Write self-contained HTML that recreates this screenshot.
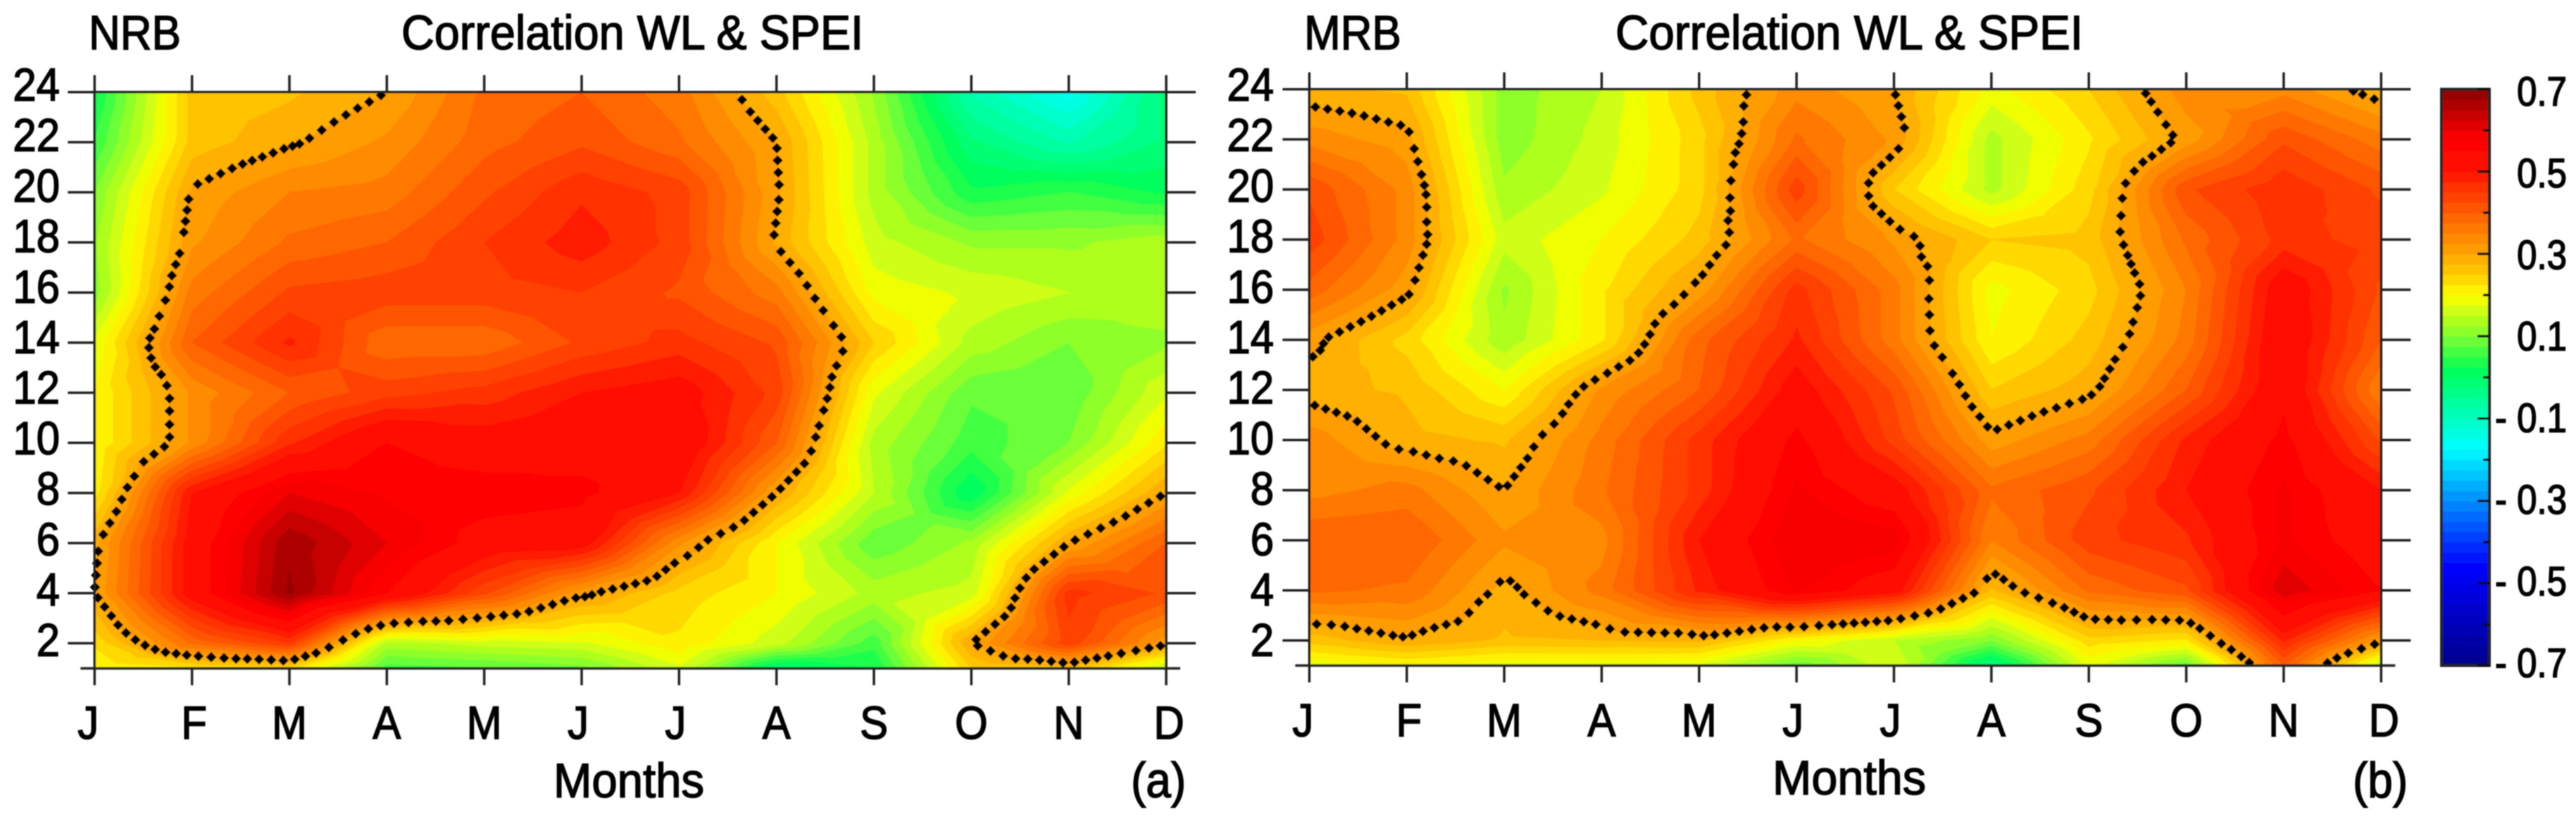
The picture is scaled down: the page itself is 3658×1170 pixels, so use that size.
<!DOCTYPE html>
<html lang="en">
<head>
<meta charset="utf-8">
<title>Correlation WL &amp; SPEI</title>
<style>
html,body{margin:0;padding:0;background:#fff;width:3658px;height:1170px;overflow:hidden}
svg{display:block}
text{font-family:"Liberation Sans",sans-serif;fill:#000;stroke:#000;stroke-width:1.4px}
</style>
</head>
<body>
<svg id="figure" xmlns="http://www.w3.org/2000/svg" width="3658" height="1170" viewBox="0 0 3658 1170">
  <defs>
    <filter id="soft" x="0" y="0" width="1" height="1"><feGaussianBlur stdDeviation="0.7"/></filter>
    <clipPath id="clip-a"><rect x="124" y="130.7" width="1542" height="818.3"/></clipPath>
    <clipPath id="clip-b"><rect x="1849" y="126.7" width="1542" height="818.3"/></clipPath>
  </defs>
  <rect width="3658" height="1170" fill="#fff"/>
  <g id="root" filter="url(#soft)">
    <g id="panel-a"></g>
    <g id="panel-b"></g>
    <g id="colorbar"></g>
    <text transform="translate(126,70) scale(1,1.1)" font-size="62">NRB</text>
    <text transform="translate(570,70) scale(1,1.1)" font-size="62" textLength="656" lengthAdjust="spacingAndGlyphs">Correlation WL &amp; SPEI</text>
    <text transform="translate(1852,70) scale(1,1.1)" font-size="62">MRB</text>
    <text transform="translate(2294,70) scale(1,1.1)" font-size="62" textLength="664" lengthAdjust="spacingAndGlyphs">Correlation WL &amp; SPEI</text>
    <text transform="translate(786,1132) scale(1,1.1)" font-size="62" textLength="214" lengthAdjust="spacingAndGlyphs">Months</text>
    <text transform="translate(2517,1128) scale(1,1.1)" font-size="62" textLength="218" lengthAdjust="spacingAndGlyphs">Months</text>
    <text transform="translate(1606,1132) scale(1,1.1)" font-size="64">(a)</text>
    <text transform="translate(3341,1132) scale(1,1.1)" font-size="64">(b)</text>
  </g>
</svg>
<script>
const monthLabels = ['J','F','M','A','M','J','J','A','S','O','N','D'];
const lagRows = [24,22,20,18,16,14,12,10,8,6,4,2,1];
const lagTickLabels = [24,22,20,18,16,14,12,10,8,6,4,2];
const colorbarLabels = [0.7,0.5,0.3,0.1,-0.1,-0.3,-0.5,-0.7];
const colorbarTicks = [0.7,0.6,0.5,0.4,0.3,0.2,0.1,0,-0.1,-0.2,-0.3,-0.4,-0.5,-0.6,-0.7];
const significanceLevel = 0.3;
const nrbCorrelation = [
  [ 0.02,0.26,0.27,0.30,0.38,0.40,0.36,0.26,0.12,-0.08,-0.16,-0.02],
  [ 0.05,0.26,0.295,0.33,0.39,0.42,0.38,0.30,0.14,-0.02,-0.08,-0.02],
  [ 0.10,0.305,0.35,0.36,0.42,0.47,0.44,0.305,0.14,0.03,0.05,0.02],
  [ 0.12,0.32,0.38,0.40,0.45,0.49,0.44,0.295,0.16,0.12,0.12,0.14],
  [ 0.11,0.36,0.43,0.44,0.44,0.45,0.42,0.36,0.19,0.17,0.15,0.14],
  [ 0.18,0.40,0.48,0.38,0.38,0.43,0.46,0.42,0.25,0.14,0.10,0.12],
  [ 0.20,0.33,0.40,0.44,0.46,0.50,0.52,0.44,0.18,0.08,0.08,0.17],
  [ 0.20,0.33,0.47,0.55,0.52,0.53,0.54,0.40,0.14,0.06,0.10,0.22],
  [ 0.214,0.50,0.60,0.57,0.57,0.56,0.50,0.30,0.15,0.00,0.18,0.30],
  [ 0.29,0.52,0.67,0.60,0.53,0.52,0.33,0.20,0.08,0.13,0.30,0.40],
  [ 0.30,0.52,0.68,0.55,0.43,0.31,0.24,0.20,0.14,0.16,0.46,0.42],
  [ 0.23,0.38,0.45,0.14,0.16,0.17,0.22,0.16,0.06,0.30,0.44,0.31],
  [ 0.20,0.22,0.236,0.06,0.07,0.09,0.17,-0.02,0.02,0.25,0.265,0.14]
];
const mrbCorrelation = [
  [ 0.28,0.27,0.11,0.15,0.26,0.34,0.30,0.19,0.25,0.34,0.34,0.28],
  [ 0.34,0.31,0.11,0.16,0.24,0.38,0.32,0.14,0.22,0.31,0.42,0.36],
  [ 0.42,0.34,0.13,0.17,0.24,0.44,0.25,0.14,0.24,0.42,0.47,0.42],
  [ 0.44,0.34,0.16,0.20,0.26,0.38,0.32,0.25,0.26,0.38,0.46,0.44],
  [ 0.39,0.31,0.12,0.22,0.31,0.46,0.36,0.19,0.24,0.35,0.53,0.42],
  [ 0.31,0.24,0.13,0.22,0.39,0.48,0.36,0.20,0.26,0.36,0.54,0.40],
  [ 0.285,0.27,0.20,0.33,0.40,0.52,0.42,0.25,0.29,0.40,0.54,0.35],
  [ 0.34,0.285,0.27,0.36,0.46,0.56,0.44,0.31,0.36,0.48,0.56,0.42],
  [ 0.34,0.36,0.30,0.37,0.46,0.58,0.52,0.38,0.42,0.50,0.58,0.50],
  [ 0.40,0.40,0.33,0.34,0.50,0.60,0.59,0.35,0.44,0.47,0.58,0.52],
  [ 0.38,0.37,0.29,0.36,0.48,0.58,0.52,0.27,0.38,0.42,0.62,0.55],
  [ 0.26,0.295,0.27,0.275,0.28,0.20,0.15,0.10,0.24,0.22,0.48,0.31],
  [ 0.18,0.20,0.18,0.18,0.17,0.08,0.17,-0.03,0.18,0.08,0.40,0.15]
];

const SVGNS = 'http://www.w3.org/2000/svg';
const colorStops = [
  [-0.7,0,0,139],[-0.46,0,0,255],[-0.17,0,255,255],[0.02,0,255,85],[0.1,127,255,50],
  [0.2,255,255,0],[0.25,255,204,0],[0.33,255,144,0],[0.42,255,80,0],[0.5,255,20,0],
  [0.58,255,0,0],[0.7,139,0,0]
];
const bandStep = 0.025;

function make(tag, attrs, parent) {
  const el = document.createElementNS(SVGNS, tag);
  for (const k in attrs) el.setAttribute(k, attrs[k]);
  parent.appendChild(el);
  return el;
}
function colorFor(v) {
  if (v <= colorStops[0][0]) return 'rgb(0,0,139)';
  for (let i = 1; i < colorStops.length; i++) {
    const a = colorStops[i-1], b = colorStops[i];
    if (v <= b[0]) {
      const t = (v-a[0])/(b[0]-a[0]);
      return 'rgb(' + Math.round(a[1]+t*(b[1]-a[1])) + ',' + Math.round(a[2]+t*(b[2]-a[2])) + ',' + Math.round(a[3]+t*(b[3]-a[3])) + ')';
    }
  }
  return 'rgb(139,0,0)';
}
function clipPoly(poly, level, keepAbove) {
  const out = [];
  for (let i = 0; i < poly.length; i++) {
    const p = poly[i], q = poly[(i+1)%poly.length];
    const pIn = keepAbove ? p.v >= level : p.v <= level;
    const qIn = keepAbove ? q.v >= level : q.v <= level;
    if (pIn) out.push(p);
    if (pIn !== qIn) {
      const t = (level-p.v)/(q.v-p.v);
      out.push({x:p.x+t*(q.x-p.x), y:p.y+t*(q.y-p.y), v:level});
    }
  }
  return out;
}
function trianglesFor(values, xs, ys) {
  const tris = [];
  for (let r = 0; r < values.length-1; r++) {
    for (let c = 0; c < values[r].length-1; c++) {
      const a = {x:xs(c),y:ys(lagRows[r]),v:values[r][c]};
      const b = {x:xs(c+1),y:ys(lagRows[r]),v:values[r][c+1]};
      const d = {x:xs(c+1),y:ys(lagRows[r+1]),v:values[r+1][c+1]};
      const e = {x:xs(c),y:ys(lagRows[r+1]),v:values[r+1][c]};
      const m = {x:(a.x+b.x)/2,y:(a.y+e.y)/2,v:(a.v+b.v+d.v+e.v)/4};
      tris.push([a,b,m],[b,d,m],[d,e,m],[e,a,m]);
    }
  }
  return tris;
}
function drawLabel(parent, str, x, y, size, anchor, sy) {
  const t = make('text', {transform:'translate('+x+','+y+') scale(1,'+sy+')', 'font-size':size, 'text-anchor':anchor}, parent);
  t.textContent = str;
  return t;
}
function monthNudge(letter, idx) {
  if (letter === 'J') return idx === 0 ? -9 : -5;
  if (letter === 'F') return 3;
  if (letter === 'D') return 4;
  return 0;
}
function drawPanel(gId, values, box, clipId, yLabelRight, monthBaseline, labelTop) {
  const g = document.getElementById(gId);
  const xs = i => box.x0 + i*(box.x1-box.x0)/11;
  const ys = lag => box.y0 + (24-lag)*(box.y1-box.y0)/23;
  const tris = trianglesFor(values, xs, ys);
  const field = make('g', {'clip-path':'url(#'+clipId+')'}, g);
  
  
  for (let lo = -0.7; lo < 0.7-1e-6; lo += bandStep) {
    const hi = lo + bandStep;
    let d = '';
    for (const tri of tris) {
      let poly = lo < -0.69 ? tri : clipPoly(tri, lo, true);
      if (poly.length && hi < 0.69) poly = clipPoly(poly, hi, false);
      if (poly.length < 3) continue;
      d += 'M' + poly.map(p => p.x.toFixed(1)+' '+p.y.toFixed(1)).join('L') + 'Z';
    }
    if (!d) continue;
    const col = colorFor(lo + bandStep/2);
    const band = make('path', {d:d, fill:col, stroke:col, 'stroke-width':0.8}, field);
    
    
  }
  let dots = '';
  const r = 7.5;
  for (const tri of tris) {
    const pts = [];
    for (let i = 0; i < 3; i++) {
      const p = tri[i], q = tri[(i+1)%3];
      if ((p.v >= significanceLevel) !== (q.v >= significanceLevel)) {
        const t = (significanceLevel-p.v)/(q.v-p.v);
        pts.push({x:p.x+t*(q.x-p.x), y:p.y+t*(q.y-p.y)});
      }
    }
    if (pts.length !== 2) continue;
    const L = Math.hypot(pts[1].x-pts[0].x, pts[1].y-pts[0].y);
    const n = Math.round(L/18);
    for (let k = 0; k < n; k++) {
      const f = (k+0.5)/n;
      const x = pts[0].x+f*(pts[1].x-pts[0].x), y = pts[0].y+f*(pts[1].y-pts[0].y);
      dots += 'M'+x.toFixed(1)+' '+(y-r).toFixed(1)+'L'+(x+r).toFixed(1)+' '+y.toFixed(1)+'L'+x.toFixed(1)+' '+(y+r).toFixed(1)+'L'+(x-r).toFixed(1)+' '+y.toFixed(1)+'Z';
    }
  }
  const contour = make('path', {d:dots, fill:'#000', 'clip-path':'url(#'+clipId+')'}, g);
  
  

  const frameAttrs = {stroke:'#222','stroke-width':3.5,fill:'none'};
  const frame = make('rect', Object.assign({x:box.x0,y:box.y0,width:box.x1-box.x0,height:box.y1-box.y0}, frameAttrs), g);
  
  

  monthLabels.forEach((m, i) => {
    const x = xs(i);
    const top = make('line', Object.assign({x1:x,x2:x,y1:box.y0-24,y2:box.y0}, frameAttrs), g);
    
    
    const bot = make('line', Object.assign({x1:x,x2:x,y1:box.y1,y2:box.y1+24}, frameAttrs), g);
    
    
    const lab = drawLabel(g, m, x+monthNudge(m,i), monthBaseline, 60, 'middle', 1.1);
    
    
  });
  lagTickLabels.forEach(v => {
    const y = ys(v);
    const l = make('line', Object.assign({x1:box.x0-38,x2:box.x0,y1:y,y2:y}, frameAttrs), g);
    
    
    const rt = make('line', Object.assign({x1:box.x1,x2:box.x1+42,y1:y,y2:y}, frameAttrs), g);
    
    
    const lab = drawLabel(g, String(v), yLabelRight, labelTop + (24-v)/2*71.7, 60, 'end', 1.1);
    
    
  });
  const minL = make('line', Object.assign({x1:box.x0-20,x2:box.x0,y1:ys(1),y2:ys(1)}, frameAttrs), g);
  
  
  const minR = make('line', Object.assign({x1:box.x1,x2:box.x1+20,y1:ys(1),y2:ys(1)}, frameAttrs), g);
  
  
}
function drawColorbar() {
  const g = document.getElementById('colorbar');
  const left = 3467, right = 3535, top = 126.7, bottom = 945;
  const ys = v => top + (0.7-v)*(bottom-top)/1.4;
  for (let lo = -0.7; lo < 0.7-1e-6; lo += bandStep) {
    const r = make('rect', {x:left,y:ys(lo+bandStep),width:right-left,height:ys(lo)-ys(lo+bandStep)+0.6,fill:colorFor(lo+bandStep/2)}, g);
    
    
  }
  const fr = make('rect', {x:left,y:top,width:right-left,height:bottom-top,fill:'none',stroke:'#222','stroke-width':4}, g);
  
  
  colorbarTicks.forEach((v, i) => {
    const y = ys(v);
    const len = i % 2 === 0 ? 17 : 9;
    const t = make('line', {x1:right-len,x2:right,y1:y,y2:y,stroke:'#111','stroke-width':3.5}, g);
    
    
  });
  colorbarLabels.forEach((v, i) => {
    const str = v < 0 ? '- ' + Math.abs(v).toFixed(1) : v.toFixed(1);
    const lab = drawLabel(g, str, 3645, 150 + i*115.9, 51, 'end', 1.14);
    
    
  });
}
drawPanel('panel-a', nrbCorrelation, {x0:134.3,x1:1656,y0:130.7,y1:949}, 'clip-a', 85, 1049, 143);
drawPanel('panel-b', mrbCorrelation, {x0:1859.3,x1:3381.3,y0:126.7,y1:945}, 'clip-b', 1809, 1045.5, 143);
drawColorbar();
</script>
</body>
</html>
